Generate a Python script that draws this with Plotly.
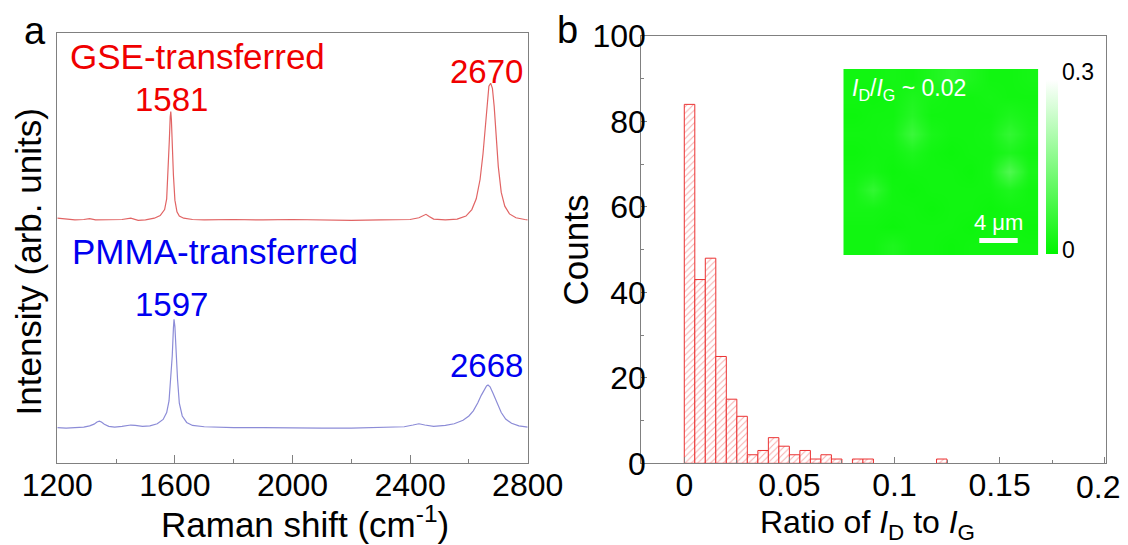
import plotly.graph_objects as go

# ---------------- Panel a: Raman spectra ----------------
raman_shift_gse = [1200, 1230, 1260, 1290, 1310, 1330, 1380, 1420, 1450, 1475, 1500, 1530, 1550,
                   1565, 1572, 1577, 1581, 1584, 1586, 1588, 1591, 1595, 1600, 1607, 1615, 1630,
                   1660, 1700, 1800, 1900, 2000, 2100, 2200, 2300, 2400, 2430, 2445, 2454, 2465,
                   2480, 2520, 2560, 2590, 2610, 2625, 2638, 2648, 2656, 2662, 2668, 2674, 2680,
                   2686, 2692, 2700, 2710, 2722, 2738, 2760, 2790, 2800]
intensity_gse = [0.570, 0.568, 0.566, 0.567, 0.569, 0.566, 0.566, 0.567, 0.570, 0.565, 0.566, 0.570, 0.576,
                 0.590, 0.615, 0.680, 0.750, 0.805, 0.818, 0.800, 0.735, 0.670, 0.612, 0.585, 0.575, 0.570,
                 0.567, 0.566, 0.567, 0.566, 0.567, 0.566, 0.565, 0.566, 0.567, 0.571, 0.577, 0.579, 0.574,
                 0.568, 0.566, 0.568, 0.575, 0.590, 0.615, 0.660, 0.720, 0.790, 0.845, 0.877, 0.884, 0.872,
                 0.830, 0.765, 0.690, 0.630, 0.598, 0.580, 0.571, 0.567, 0.566]

raman_shift_pmma = [1200, 1230, 1260, 1290, 1310, 1325, 1335, 1343, 1350, 1360, 1375, 1395, 1420,
                    1440, 1450, 1465, 1490, 1515, 1540, 1560, 1572, 1580, 1586, 1591, 1595, 1597,
                    1600, 1604, 1609, 1615, 1625, 1640, 1660, 1700, 1800, 1900, 2000, 2100, 2200,
                    2300, 2380, 2410, 2430, 2450, 2480, 2520, 2550, 2580, 2600, 2615, 2630, 2642,
                    2652, 2660, 2665, 2672, 2682, 2695, 2710, 2725, 2745, 2770, 2800]
intensity_pmma = [0.083, 0.082, 0.083, 0.084, 0.087, 0.091, 0.096, 0.098, 0.096, 0.091, 0.086, 0.084, 0.086,
                  0.089, 0.089, 0.088, 0.086, 0.087, 0.092, 0.102, 0.118, 0.145, 0.195, 0.250, 0.315, 0.335,
                  0.318, 0.250, 0.195, 0.140, 0.110, 0.095, 0.088, 0.085, 0.083, 0.083, 0.082, 0.082, 0.082,
                  0.083, 0.085, 0.089, 0.092, 0.089, 0.086, 0.088, 0.092, 0.100, 0.110, 0.122, 0.140, 0.158,
                  0.172, 0.180, 0.182, 0.178, 0.163, 0.140, 0.118, 0.103, 0.093, 0.087, 0.084]

peak_labels_gse = ["1581", "2670"]
peak_labels_pmma = ["1597", "2668"]

# ---------------- Panel b: histogram of I_D/I_G ----------------
bin_left = [0.000, 0.005, 0.010, 0.015, 0.020, 0.025, 0.030, 0.035, 0.040, 0.045,
            0.050, 0.055, 0.060, 0.065, 0.070, 0.080, 0.085, 0.120]
counts = [84, 43, 48, 25, 15, 11, 2, 3, 6, 4, 2, 3, 1, 2, 1, 1, 1, 1]
bin_width = 0.005
ratio_ticks = [0, 0.05, 0.1, 0.15, 0.2]
ratio_tick_text = ["0", "0.05", "0.1", "0.15", "0.2"]

# inset I_D/I_G map (rows top to bottom)
ratio_map = [
    [0.020, 0.020, 0.025, 0.020, 0.035, 0.050, 0.035, 0.020, 0.020, 0.025],
    [0.020, 0.015, 0.020, 0.035, 0.025, 0.020, 0.020, 0.025, 0.020, 0.020],
    [0.015, 0.020, 0.020, 0.045, 0.020, 0.020, 0.020, 0.020, 0.035, 0.025],
    [0.020, 0.020, 0.025, 0.070, 0.030, 0.020, 0.020, 0.025, 0.060, 0.030],
    [0.015, 0.020, 0.020, 0.035, 0.020, 0.015, 0.020, 0.020, 0.035, 0.020],
    [0.020, 0.025, 0.015, 0.020, 0.020, 0.020, 0.015, 0.025, 0.095, 0.030],
    [0.025, 0.060, 0.020, 0.015, 0.020, 0.020, 0.020, 0.020, 0.035, 0.020],
    [0.025, 0.025, 0.020, 0.020, 0.015, 0.020, 0.020, 0.015, 0.020, 0.020],
    [0.020, 0.020, 0.015, 0.020, 0.020, 0.020, 0.015, 0.020, 0.020, 0.015],
    [0.020, 0.020, 0.035, 0.020, 0.020, 0.015, 0.020, 0.020, 0.020, 0.020],
]
colorbar_labels = ["0.3", "0"]

# ---------------- styling ----------------
# the page body has an 8 px margin, so the figure is drawn 8 px in from the window corner
OFF = 8
W, H = 1128 - OFF, 545 - OFF
FONT = "Liberation Sans, Arial, sans-serif"
FRAME = "rgb(128,128,128)"
RED_TXT = "rgb(240,0,0)"
BLUE_TXT = "rgb(0,0,240)"


def px(x):
    return (x - OFF) / W


def py(y):
    return 1 - (y - OFF) / H


fig = go.Figure()

fig.add_trace(go.Scatter(x=raman_shift_gse, y=intensity_gse, mode="lines",
                         line=dict(color="rgb(225,100,100)", width=1.2),
                         xaxis="x", yaxis="y", showlegend=False, hoverinfo="skip"))
fig.add_trace(go.Scatter(x=raman_shift_pmma, y=intensity_pmma, mode="lines",
                         line=dict(color="rgb(140,140,215)", width=1.2),
                         xaxis="x", yaxis="y", showlegend=False, hoverinfo="skip"))

fig.add_trace(go.Bar(x=bin_left, y=counts, width=bin_width, offset=0,
                     marker=dict(color="white",
                                 line=dict(color="rgb(235,50,50)", width=1),
                                 pattern=dict(shape="/", fgcolor="rgb(240,90,90)",
                                              bgcolor="white", size=4.5, solidity=0.22)),
                     xaxis="x2", yaxis="y2", showlegend=False))

fig.add_trace(go.Heatmap(z=ratio_map, zmin=0, zmax=0.3, zsmooth="best",
                         colorscale=[[0, "rgb(0,245,0)"], [1, "rgb(255,255,255)"]],
                         xaxis="x3", yaxis="y3",
                         colorbar=dict(x=px(1046), xanchor="left", y=py(254), yanchor="bottom",
                                       len=(254 - 80) / H, lenmode="fraction",
                                       thickness=12, thicknessmode="pixels",
                                       outlinewidth=0, showticklabels=False, ticks="",
                                       xpad=0, ypad=0)))

frame = dict(showline=True, linecolor=FRAME, linewidth=1, mirror=True,
             showgrid=False, zeroline=False, automargin=False)
tickfont = dict(family=FONT, size=32, color="black")

fig.update_layout(
    width=W, height=H,
    margin=dict(l=0, r=0, t=0, b=0, autoexpand=False),
    paper_bgcolor="white", plot_bgcolor="white",
    showlegend=False,
    xaxis=dict(domain=[px(57.3), px(527.7)], range=[1200, 2800], anchor="y",
               tickmode="linear", tick0=1200, dtick=400,
               ticks="inside", ticklen=8, tickcolor=FRAME, tickfont=tickfont,
               ticklabelstandoff=-7,
               minor=dict(tick0=1200, dtick=200, ticks="inside", ticklen=4, tickcolor=FRAME),
               **frame),
    yaxis=dict(domain=[py(463.3), py(33.3)], range=[0, 1], anchor="x",
               showticklabels=False, ticks="", **frame),
    xaxis2=dict(domain=[px(641.2), px(1105.7)], range=[-0.0205, 0.2005], anchor="y2",
                tickmode="array", tickvals=ratio_ticks,
                ticktext=ratio_tick_text[:-1] + [""],
                ticks="inside", ticklen=6, tickcolor=FRAME, tickfont=tickfont,
                ticklabelstandoff=-7,
                minor=dict(tick0=0, dtick=0.025, ticks="inside", ticklen=3, tickcolor=FRAME),
                **frame),
    yaxis2=dict(domain=[py(463.3), py(36)], range=[0, 100], anchor="x2",
                tickmode="linear", tick0=0, dtick=20,
                ticks="inside", ticklen=6, tickcolor=FRAME, tickfont=tickfont,
                ticklabelstandoff=-12,
                minor=dict(tick0=0, dtick=10, ticks="inside", ticklen=3, tickcolor=FRAME),
                **frame),
    xaxis3=dict(domain=[px(843.3), px(1038.3)], range=[-0.5, 9.5], anchor="y3", visible=False),
    yaxis3=dict(domain=[py(255), py(69)], range=[9.5, -0.5], anchor="x3", visible=False),
)


def ann(text, x, y, size, color="black", xanchor="center", yanchor="middle", angle=0):
    fig.add_annotation(text=text, x=x, y=y, xref="paper", yref="paper",
                       xanchor=xanchor, yanchor=yanchor, showarrow=False, textangle=angle,
                       font=dict(family=FONT, size=size, color=color))


# panel letters
ann("a", px(35), py(31), 38)
ann("b", px(567), py(30), 38)

# last ratio tick label, pulled in from the window edge as in the original
ann(ratio_tick_text[-1], px(1098), py(487), 32)

# panel a texts
ann("GSE-transferred", px(68), py(56), 35, RED_TXT, xanchor="left")
ann(peak_labels_gse[0], px(171), py(99.5), 33, RED_TXT)
ann(peak_labels_gse[1], px(486.5), py(71.5), 33, RED_TXT)
ann("PMMA-transferred", px(70), py(252), 35, BLUE_TXT, xanchor="left")
ann(peak_labels_pmma[0], px(171.5), py(304.5), 33, BLUE_TXT)
ann(peak_labels_pmma[1], px(486.5), py(365.5), 33, BLUE_TXT)

# axis titles
ann("Raman shift (cm<sup>-1</sup>)", px(305), py(522), 35)
ann("Intensity (arb. units)", px(27.5), py(262), 35, angle=-90)
ann("Counts", px(574.5), py(250), 35, angle=-90)
ann("Ratio of <i>I</i><sub>D</sub> to <i>I</i><sub>G</sub>", px(867), py(524), 32)

# inset texts
ann("<i>I</i><sub>D</sub>/<i>I</i><sub>G</sub> ~ 0.02", px(850), py(90), 23, "white", xanchor="left")
ann("4 μm", px(998.5), py(222), 22, "white")
ann(colorbar_labels[0], px(1060), py(72.5), 23, xanchor="left")
ann(colorbar_labels[1], px(1060), py(250), 23, xanchor="left")

# scale bar
fig.add_shape(type="line", xref="paper", yref="paper",
              x0=px(979.3), x1=px(1017.7), y0=py(240.5), y1=py(240.5),
              line=dict(color="white", width=5))

fig.write_html("out.html")
